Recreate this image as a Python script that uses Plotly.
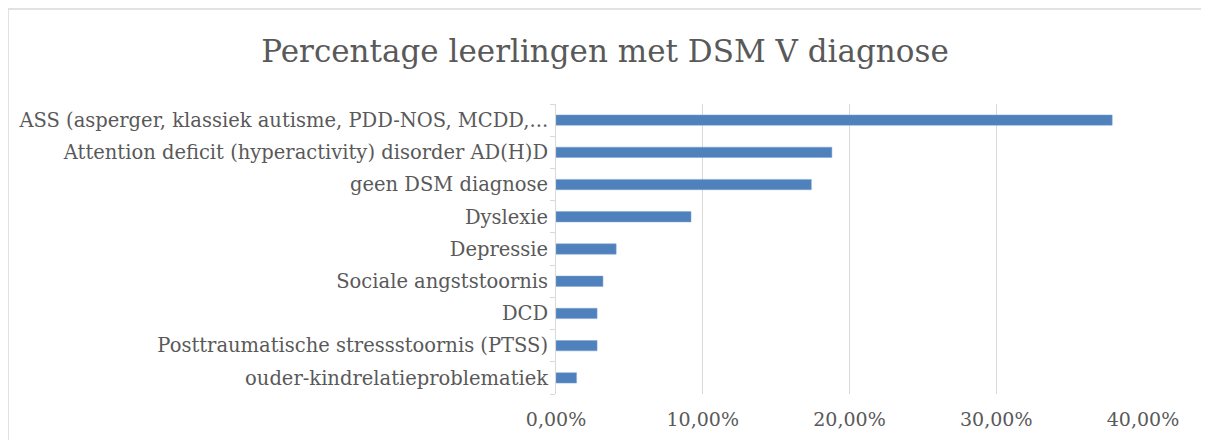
import plotly.graph_objects as go

# Categories listed top to bottom as in the reference
categories = [
    "ASS (asperger, klassiek autisme, PDD-NOS, MCDD,...",
    "Attention deficit (hyperactivity) disorder AD(H)D",
    "geen DSM diagnose",
    "Dyslexie",
    "Depressie",
    "Sociale angststoornis",
    "DCD",
    "Posttraumatische stressstoornis (PTSS)",
    "ouder-kindrelatieproblematiek",
]
percentages = [0.379, 0.188, 0.174, 0.092, 0.041, 0.032, 0.028, 0.028, 0.014]
x_ticks = [0, 0.1, 0.2, 0.3, 0.4]

# the page body has an 8px margin, so shrink the figure and shift coords
OFF = 8
W, H = 1209 - 2 * OFF, 448 - 2 * OFF
# plot area in reference pixels
left, right, top, bottom = 556 - OFF, 1143 - OFF, 104 - OFF, 394 - OFF
pw, ph = right - left, bottom - top

font = "DejaVu Serif"
grey = "#595959"

fig = go.Figure()
fig.add_trace(go.Bar(
    x=percentages,
    y=categories,
    orientation="h",
    marker=dict(color="#4f81bd", line=dict(color="#7fa3d3", width=0.5)),
    width=0.32,
    hoverinfo="x+y",
))

# chart border, expressed in paper coords from pixel positions
def px_x(p):
    return (p - OFF - left) / pw

def px_y(p):
    return (bottom - (p - OFF)) / ph

fig.add_shape(type="rect", xref="paper", yref="paper",
              x0=px_x(8), x1=px_x(1207), y0=px_y(446), y1=px_y(9),
              line=dict(color="#d9d9d9", width=1.5), layer="below")

fig.update_layout(
    width=W, height=H,
    margin=dict(l=left, r=W - right, t=top, b=H - bottom),
    paper_bgcolor="white",
    plot_bgcolor="white",
    separators=",.",
    showlegend=False,
    title=dict(
        text="Percentage leerlingen met DSM V diagnose",
        x=(605 - OFF) / W, xanchor="center", xref="container",
        y=1 - (51 - OFF) / H, yanchor="middle", yref="container",
        font=dict(family=font, size=31, color=grey),
    ),
    font=dict(family=font, color=grey),
)

fig.update_xaxes(
    range=[0, 0.4],
    tickvals=x_ticks,
    tickformat=".2%",
    showgrid=True, gridcolor="#d9d9d9", gridwidth=1,
    zeroline=False,
    showline=False,
    ticks="",
    ticklabelstandoff=12,
    tickfont=dict(family=font, size=19, color=grey),
    automargin=False,
    fixedrange=True,
)

fig.update_yaxes(
    categoryorder="array",
    categoryarray=categories[::-1],
    showline=True, linecolor="#d9d9d9", linewidth=1,
    ticks="outside", tickson="boundaries", ticklen=5, tickcolor="#d9d9d9",
    ticklabelstandoff=3,
    tickfont=dict(family=font, size=19.5, color=grey),
    showgrid=False,
    automargin=False,
    fixedrange=True,
)

fig.write_html("out.html")
